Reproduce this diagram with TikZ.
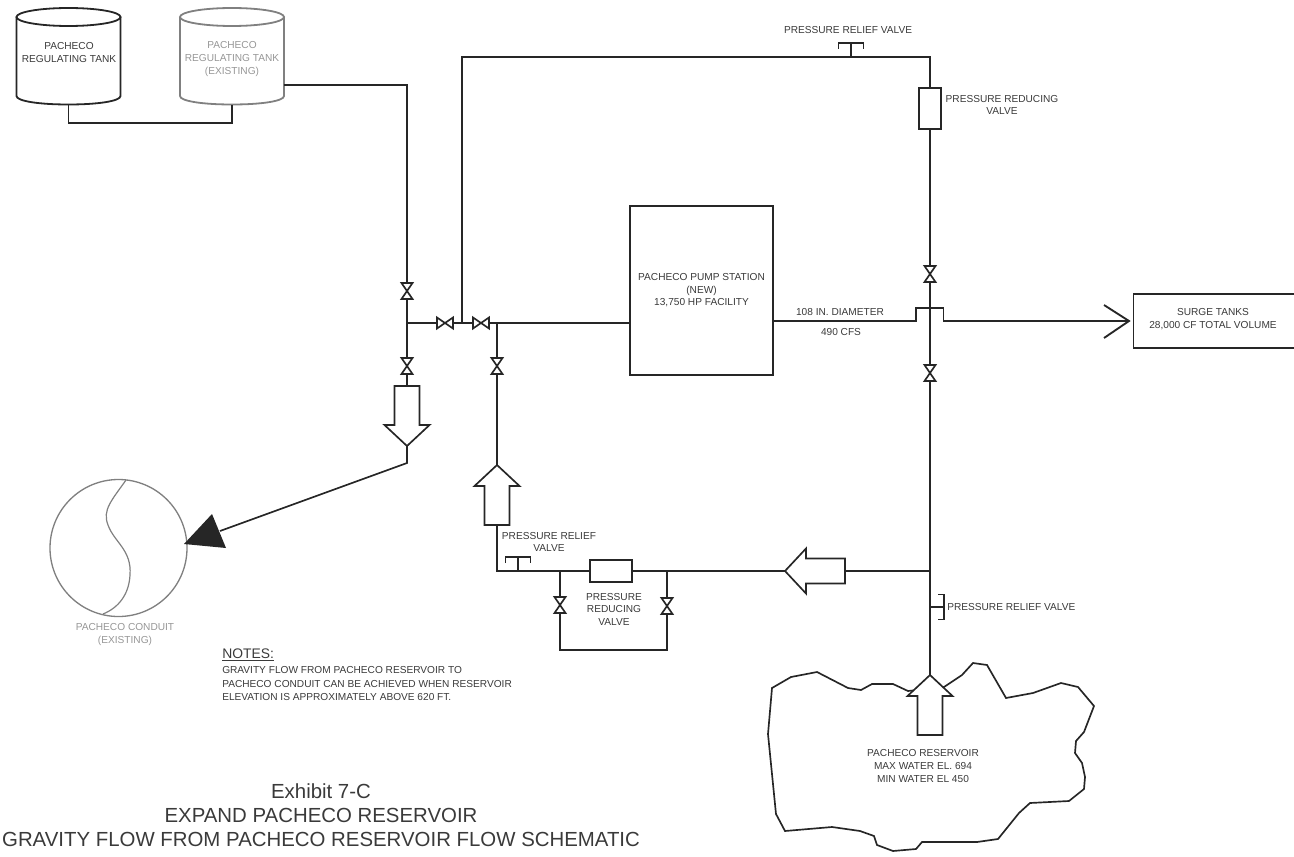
\documentclass[tikz,border=0pt]{standalone}
\usepackage{xcolor}
\usepackage{fontspec}
\setmainfont{Liberation Sans}
\usetikzlibrary{calc,positioning}
\definecolor{PipeDark}{HTML}{262626}
\definecolor{LabelDark}{HTML}{3A3A3A}
\definecolor{ExistingGrey}{HTML}{808080}
\definecolor{ExistingText}{HTML}{969696}
\newcommand{\valveV}[3]{%
    \node[valvebox, minimum width=8.25pt, minimum height=12pt] (#1) at (#2,#3) {};
    \draw[pipe, fill=white] (#1.north west) -- (#1.north east) -- (#1.south west) -- (#1.south east) -- cycle;
}
\newcommand{\valveH}[3]{%
    \node[valvebox, minimum width=12pt, minimum height=8.25pt] (#1) at (#2,#3) {};
    \draw[pipe, fill=white] (#1.north west) -- (#1.south west) -- (#1.north east) -- (#1.south east) -- cycle;
}
\newcommand{\flowarrow}[4]{%
    \begin{scope}[shift={(#2,#3)}, rotate=#4]
        \draw[pipe, fill=white] (-12.5,0) -- (12.5,0) -- (12.5,39) -- (22.5,39) -- (0,60) -- (-22.5,39) -- (-12.5,39) -- cycle;
        \coordinate (#1-in) at (0,0);
        \coordinate (#1-out) at (0,60);
    \end{scope}
}
\newcommand{\reliefstem}[4]{%
    \begin{scope}[shift={(#2,#3)}, rotate=#4]
        \coordinate (#1-foot) at (0,0);
        \coordinate (#1-head) at (0,-14);
        \draw[pipe] (-12.5,-8) -- (-12.5,-14) -- (12.5,-14) -- (12.5,-8);
    \end{scope}
    \draw[pipe] (#1-foot) -- (#1-head);
}
\newcommand{\tankshape}[3]{%
    \draw[#3, line width=1.35pt] (#2,17) ellipse [x radius=52, y radius=9];
    \draw[#3, line width=1.35pt] (#2-52,17) -- (#2-52,96) .. controls (#2-52,101) and (#2-30,104.5) .. (#2,104.5) .. controls (#2+30,104.5) and (#2+52,101) .. (#2+52,96) -- (#2+52,17);
    \coordinate (#1-base) at (#2,104.5);
}
\begin{document}
\begin{tikzpicture}[x=0.75pt, y=-0.75pt,
    pipe/.style={PipeDark, line width=1.25pt, line join=miter},
    valvebox/.style={inner sep=0pt, outer sep=0pt, shape=rectangle},
    boxnode/.style={draw=PipeDark, line width=1.25pt, fill=white, inner sep=0pt, outer sep=0pt},
    textlabel/.style={text=LabelDark, align=center, inner sep=0pt, font=\fontsize{7.6}{9.4}\selectfont},
    greylabel/.style={textlabel, text=ExistingText},
    titlelabel/.style={text=LabelDark, align=center, inner sep=0pt, font=\fontsize{15.3}{18}\selectfont}
]
        \useasboundingbox (0,0) rectangle (1294,856);

        \tankshape{tankA}{68.5}{PipeDark}
        \tankshape{tankB}{232}{ExistingGrey}
        \node[textlabel] (tankAtext) at (69,52.5) {PACHECO\\REGULATING TANK};
        \node[greylabel] (tankBtext) at (232,59) {PACHECO\\REGULATING TANK\\(EXISTING)};
        \coordinate (tankBout) at (283.5,85);
        \draw[pipe] (tankA-base) -- ++(0,18.5) -| (tankB-base);

        \node[boxnode, minimum width=107.25pt, minimum height=126.75pt] (pump) at (701.5,290.5) {};
        \node[textlabel] at (pump.center) {PACHECO PUMP STATION\\(NEW)\\13,750 HP FACILITY};
        \node[boxnode, minimum width=121.5pt, minimum height=40.5pt, anchor=west] (surge) at (1133.5,321) {};
        \node[textlabel] at (1213,319) {SURGE TANKS\\28,000 CF TOTAL VOLUME};
        \node[boxnode, minimum width=16.5pt, minimum height=30.75pt] (reduceTop) at (930,108.5) {};
        \node[boxnode, minimum width=31.5pt, minimum height=16.5pt] (reduceLow) at (611,571) {};

        \valveV{vA}{407}{291}
        \valveV{vB}{407}{366}
        \valveH{vC}{445}{323}
        \valveH{vD}{481}{323}
        \valveV{vE}{497}{366}
        \valveV{vF}{560}{605}
        \valveV{vG}{667}{606}
        \valveV{vH}{930}{274}
        \valveV{vI}{930}{373}

        \coordinate (joinA) at (407,323);
        \coordinate (joinB) at (462,323);
        \coordinate (joinC) at (497,323);
        \coordinate (cornerTop) at (462,57);
        \coordinate (cornerRight) at (930,57);
        \coordinate (joinLow) at (930,571);

        % reservoir outline
        \draw[pipe] (772,688) -- (791,677) -- (817,672) -- (848,688) -- (861,690) -- (872,684) -- (893,684) -- (908,691) -- (944,687) -- (962,675) -- (973,663) -- (987,665) -- (1006,698) -- (1033,693) -- (1061,683) -- (1078,687) -- (1094,706) -- (1084,732) -- (1076,741) -- (1075,753) -- (1082,763) -- (1085,777) -- (1084,789) -- (1069,801) -- (1030,803) -- (1019,813) -- (998,839) -- (977,842) -- (922,842) -- (916,849) -- (893,851) -- (877,845) -- (874,836) -- (860,831) -- (832,827) -- (785,831) -- (776,814) -- (768,734) -- cycle;
        \node[textlabel] (reservoir) at (923,766) {PACHECO RESERVOIR\\MAX WATER EL. 694\\MIN WATER EL 450};

        \flowarrow{arrDown}{407}{386}{0}
        \flowarrow{arrUp}{497}{525}{180}
        \flowarrow{arrLeft}{845}{571}{-90}
        \flowarrow{arrRes}{930}{735}{180}

        % conduit
        \node[circle, draw=ExistingGrey, line width=1pt, minimum size=102.75pt, inner sep=0pt, outer sep=0pt] (conduit) at (118.5,548) {};
        \draw[ExistingGrey, line width=0.9pt] (126,480) .. controls (112,500) and (102,510) .. (108,525) .. controls (114,542) and (132,550) .. (130,575) .. controls (129,595) and (118,608) .. (103,614);
        \node[greylabel] (conduittext) at (125,634.5) {PACHECO CONDUIT\\(EXISTING)};

        % pipes
        \draw[pipe] (tankBout) -| (vA.north);
        \draw[pipe] (vA.south) -- (vB.north);
        \draw[pipe] (vB.south) -- (arrDown-in);
        \draw[pipe] (joinA) -- (vC.west);
        \draw[pipe] (vC.east) -- (vD.west);
        \draw[pipe] (vD.east) -- (pump.west |- joinC);
        \draw[pipe] (joinB) -- (cornerTop) -- (cornerRight) -- (reduceTop.north);
        \draw[pipe] (reduceTop.south) -- (vH.north);
        \draw[pipe] (vH.south) -- (vI.north);
        \draw[pipe] (vI.south) -- (arrRes-out);
        \draw[pipe] (joinC) -- (vE.north);
        \draw[pipe] (vE.south) -- (arrUp-out);
        \draw[pipe] (arrUp-in) |- (reduceLow.west);
        \draw[pipe] (reduceLow.east) -- (arrLeft-out);
        \draw[pipe] (arrLeft-in) -- (joinLow);
        \draw[pipe] (560,571) -- (vF.north);
        \draw[pipe] (667,571) -- (vG.north);
        \draw[pipe] (vF.south) |- (667,650) -- (vG.south);

        \coordinate (crossA) at (916,321);
        \coordinate (crossB) at (943.5,321);
        \coordinate (surgeTip) at (1129,321);
        \draw[pipe] (pump.east |- crossA) -- (crossA) -- ++(0,-13) -| (crossB) -- (surgeTip);
        \draw[pipe, line width=1.4pt] (1104,305) -- (surgeTip) -- (1104,338);

        % outflow to conduit
        \coordinate (bendA) at (407,463);
        \coordinate (headTip) at (184,544);
        \draw[pipe] (arrDown-out) -- (bendA) -- (220,531);
        \fill[PipeDark] (headTip) -- (212,514) -- (226,548) -- cycle;

        \reliefstem{reliefTop}{851}{57}{0}
        \reliefstem{reliefLow}{518}{571}{0}
        \reliefstem{reliefSide}{930}{607}{-90}

        \node[textlabel] at (848,30) {PRESSURE RELIEF VALVE};
        \node[textlabel] at (1002,105) {PRESSURE REDUCING\\VALVE};
        \node[textlabel] at (549,542) {PRESSURE RELIEF\\VALVE};
        \node[textlabel] at (614,609) {PRESSURE\\REDUCING\\VALVE};
        \node[textlabel, anchor=west] at (947,607) {PRESSURE RELIEF VALVE};
        \node[textlabel] at (840,312) {108 IN. DIAMETER};
        \node[textlabel] at (841,332) {490 CFS};

        \node[textlabel, anchor=west, font=\fontsize{10.4}{12}\selectfont] (notes) at (222,655) {\underline{NOTES:}};
        \node[textlabel, anchor=north west, align=left, font=\fontsize{7.6}{10.1}\selectfont] (notetext) at (222,666.5) {GRAVITY FLOW FROM PACHECO RESERVOIR TO\\PACHECO CONDUIT CAN BE ACHIEVED WHEN RESERVOIR\\ELEVATION IS APPROXIMATELY ABOVE 620 FT.};
        \node[titlelabel] (title) at (321,815) {Exhibit 7-C\\EXPAND PACHECO RESERVOIR\\GRAVITY FLOW FROM PACHECO RESERVOIR FLOW SCHEMATIC};
\end{tikzpicture}
\end{document}
